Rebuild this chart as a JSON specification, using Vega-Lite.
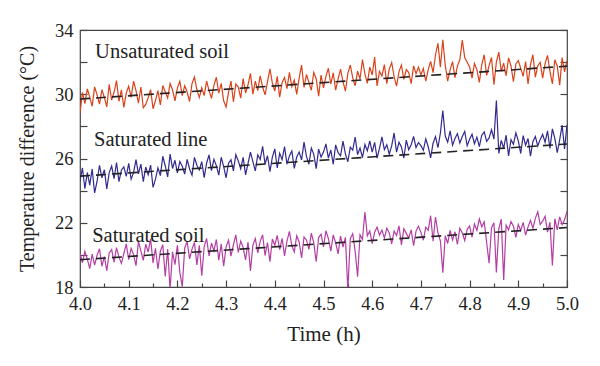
{
"$schema": "https://vega.github.io/schema/vega-lite/v6.json",
"width": 487, "height": 257,
"autosize": "none",
"padding": {"left": 80, "top": 30, "right": 33, "bottom": 79},
"background": "white",
"config": {"view": {"stroke": "#444", "strokeWidth": 1.2}, "font": "Liberation Serif"},
"datasets": {
"noisy": [
{"t":4.000,"u":28.80,"l":24.60,"s":20.10},{"t":4.005,"u":30.11,"l":25.41,"s":19.51},{"t":4.010,"u":29.42,"l":24.12,"s":20.22},{"t":4.015,"u":30.33,"l":25.13,"s":19.73},{"t":4.020,"u":29.84,"l":24.34,"s":19.14},{"t":4.025,"u":29.25,"l":25.35,"s":20.05},{"t":4.030,"u":30.46,"l":23.86,"s":19.36},{"t":4.035,"u":29.97,"l":24.57,"s":19.97},{"t":4.040,"u":29.38,"l":25.58,"s":20.38},{"t":4.045,"u":30.29,"l":24.79,"s":19.29},
{"t":4.050,"u":29.80,"l":25.30,"s":19.90},{"t":4.055,"u":29.21,"l":24.11,"s":19.01},{"t":4.060,"u":30.62,"l":25.12,"s":20.12},{"t":4.065,"u":29.63,"l":25.53,"s":20.33},{"t":4.070,"u":30.14,"l":24.74,"s":19.54},{"t":4.075,"u":30.85,"l":25.75,"s":20.45},{"t":4.080,"u":29.56,"l":24.56,"s":19.86},{"t":4.085,"u":30.27,"l":25.27,"s":19.47},{"t":4.090,"u":29.18,"l":25.48,"s":20.08},{"t":4.095,"u":30.09,"l":24.89,"s":20.69},
{"t":4.100,"u":30.50,"l":25.70,"s":19.70},{"t":4.105,"u":29.81,"l":24.71,"s":20.41},{"t":4.110,"u":30.82,"l":25.12,"s":20.02},{"t":4.115,"u":30.23,"l":25.93,"s":19.33},{"t":4.120,"u":29.44,"l":25.04,"s":20.84},{"t":4.125,"u":30.45,"l":25.65,"s":20.25},{"t":4.130,"u":29.16,"l":24.56,"s":19.66},{"t":4.135,"u":29.37,"l":25.47,"s":20.67},{"t":4.140,"u":29.78,"l":24.98,"s":20.18},{"t":4.145,"u":30.29,"l":25.59,"s":20.99},
{"t":4.150,"u":29.10,"l":24.20,"s":19.50},{"t":4.155,"u":29.61,"l":24.71,"s":20.41},{"t":4.160,"u":30.22,"l":25.42,"s":19.12},{"t":4.165,"u":29.33,"l":24.93,"s":20.23},{"t":4.170,"u":30.54,"l":26.14,"s":20.64},{"t":4.175,"u":30.15,"l":25.55,"s":18.65},{"t":4.180,"u":29.76,"l":24.86,"s":20.36},{"t":4.185,"u":30.67,"l":26.27,"s":17.87},{"t":4.190,"u":30.28,"l":25.38,"s":20.18},{"t":4.195,"u":29.59,"l":25.89,"s":19.39},
{"t":4.200,"u":30.40,"l":25.10,"s":20.60},{"t":4.205,"u":30.81,"l":25.81,"s":18.91},{"t":4.210,"u":29.92,"l":25.52,"s":18.02},{"t":4.215,"u":30.53,"l":25.03,"s":20.43},{"t":4.220,"u":30.14,"l":25.94,"s":20.84},{"t":4.225,"u":29.55,"l":25.35,"s":19.75},{"t":4.230,"u":30.66,"l":24.96,"s":20.36},{"t":4.235,"u":31.07,"l":26.07,"s":20.77},{"t":4.240,"u":30.28,"l":25.58,"s":19.38},{"t":4.245,"u":29.79,"l":25.29,"s":20.59},
{"t":4.250,"u":30.40,"l":25.80,"s":18.70},{"t":4.255,"u":29.91,"l":24.81,"s":20.51},{"t":4.260,"u":30.82,"l":25.72,"s":21.02},{"t":4.265,"u":30.23,"l":26.23,"s":19.93},{"t":4.270,"u":29.74,"l":25.24,"s":20.74},{"t":4.275,"u":30.55,"l":25.95,"s":20.25},{"t":4.280,"u":31.06,"l":25.56,"s":20.96},{"t":4.285,"u":30.07,"l":24.97,"s":19.67},{"t":4.290,"u":30.68,"l":26.08,"s":20.68},{"t":4.295,"u":29.59,"l":25.49,"s":19.29},
{"t":4.300,"u":29.20,"l":24.80,"s":20.50},{"t":4.305,"u":30.11,"l":25.71,"s":20.91},{"t":4.310,"u":30.82,"l":25.92,"s":19.92},{"t":4.315,"u":29.53,"l":25.23,"s":20.63},{"t":4.320,"u":30.64,"l":26.24,"s":21.24},{"t":4.325,"u":30.45,"l":25.85,"s":20.15},{"t":4.330,"u":29.76,"l":25.36,"s":20.86},{"t":4.335,"u":30.97,"l":26.07,"s":20.47},{"t":4.340,"u":30.08,"l":24.98,"s":19.68},{"t":4.345,"u":30.59,"l":25.69,"s":20.79},
{"t":4.350,"u":31.30,"l":26.40,"s":19.00},{"t":4.355,"u":30.01,"l":25.81,"s":20.61},{"t":4.360,"u":30.82,"l":25.22,"s":21.02},{"t":4.365,"u":30.23,"l":26.23,"s":20.13},{"t":4.370,"u":31.14,"l":25.94,"s":20.84},{"t":4.375,"u":30.45,"l":26.75,"s":21.25},{"t":4.380,"u":29.96,"l":25.66,"s":19.96},{"t":4.385,"u":30.77,"l":26.17,"s":20.77},{"t":4.390,"u":31.58,"l":25.18,"s":19.58},{"t":4.395,"u":30.69,"l":26.09,"s":20.99},
{"t":4.400,"u":30.20,"l":26.60,"s":20.60},{"t":4.405,"u":31.11,"l":25.41,"s":21.21},{"t":4.410,"u":29.82,"l":26.32,"s":20.32},{"t":4.415,"u":30.73,"l":25.93,"s":21.03},{"t":4.420,"u":31.04,"l":26.74,"s":19.94},{"t":4.425,"u":30.35,"l":25.65,"s":20.85},{"t":4.430,"u":31.36,"l":26.16,"s":21.46},{"t":4.435,"u":30.47,"l":26.47,"s":20.57},{"t":4.440,"u":30.88,"l":25.38,"s":20.18},{"t":4.445,"u":29.99,"l":26.09,"s":21.19},
{"t":4.450,"u":31.00,"l":26.40,"s":20.80},{"t":4.455,"u":31.81,"l":25.91,"s":19.81},{"t":4.460,"u":30.42,"l":27.02,"s":21.12},{"t":4.465,"u":31.23,"l":26.13,"s":20.93},{"t":4.470,"u":30.74,"l":25.64,"s":20.34},{"t":4.475,"u":30.25,"l":26.65,"s":21.35},{"t":4.480,"u":31.36,"l":26.26,"s":20.76},{"t":4.485,"u":30.97,"l":25.37,"s":19.57},{"t":4.490,"u":29.88,"l":26.58,"s":21.08},{"t":4.495,"u":31.19,"l":26.09,"s":21.29},
{"t":4.500,"u":30.40,"l":26.40,"s":20.50},{"t":4.505,"u":31.11,"l":26.91,"s":21.51},{"t":4.510,"u":31.62,"l":26.02,"s":21.02},{"t":4.515,"u":30.63,"l":26.53,"s":20.23},{"t":4.520,"u":31.34,"l":25.64,"s":21.24},{"t":4.525,"u":30.25,"l":26.85,"s":20.75},{"t":4.530,"u":30.96,"l":26.36,"s":20.06},{"t":4.535,"u":31.57,"l":26.17,"s":21.17},{"t":4.540,"u":30.78,"l":27.08,"s":20.48},{"t":4.545,"u":30.19,"l":26.29,"s":21.09},
{"t":4.550,"u":31.30,"l":25.80,"s":17.80},{"t":4.555,"u":31.81,"l":26.71,"s":21.01},{"t":4.560,"u":31.02,"l":26.52,"s":21.32},{"t":4.565,"u":30.53,"l":27.33,"s":20.23},{"t":4.570,"u":31.44,"l":26.24,"s":18.64},{"t":4.575,"u":30.95,"l":26.65,"s":21.25},{"t":4.580,"u":32.16,"l":26.06,"s":20.96},{"t":4.585,"u":31.27,"l":26.87,"s":22.67},{"t":4.590,"u":30.68,"l":26.48,"s":21.18},{"t":4.595,"u":31.69,"l":27.09,"s":21.49},
{"t":4.600,"u":31.20,"l":26.40,"s":20.70},{"t":4.605,"u":32.31,"l":27.01,"s":21.41},{"t":4.610,"u":30.52,"l":26.02,"s":21.72},{"t":4.615,"u":31.43,"l":26.63,"s":21.23},{"t":4.620,"u":31.14,"l":27.34,"s":21.54},{"t":4.625,"u":31.85,"l":26.55,"s":21.05},{"t":4.630,"u":30.66,"l":26.86,"s":21.66},{"t":4.635,"u":31.57,"l":26.27,"s":21.37},{"t":4.640,"u":31.98,"l":26.78,"s":20.68},{"t":4.645,"u":31.09,"l":27.59,"s":21.49},
{"t":4.650,"u":30.50,"l":26.40,"s":21.20},{"t":4.655,"u":31.41,"l":27.01,"s":21.81},{"t":4.660,"u":31.82,"l":26.72,"s":20.62},{"t":4.665,"u":30.93,"l":26.03,"s":21.63},{"t":4.670,"u":31.54,"l":27.14,"s":21.34},{"t":4.675,"u":31.35,"l":26.55,"s":21.05},{"t":4.680,"u":30.66,"l":26.86,"s":21.56},{"t":4.685,"u":31.77,"l":27.37,"s":20.57},{"t":4.690,"u":31.28,"l":26.68,"s":21.48},{"t":4.695,"u":31.69,"l":26.99,"s":21.79},
{"t":4.700,"u":31.20,"l":26.80,"s":21.40},{"t":4.705,"u":31.61,"l":26.51,"s":20.91},{"t":4.710,"u":30.82,"l":27.22,"s":21.72},{"t":4.715,"u":31.53,"l":26.73,"s":21.53},{"t":4.720,"u":32.04,"l":26.04,"s":22.44},{"t":4.725,"u":31.35,"l":26.95,"s":20.85},{"t":4.730,"u":32.46,"l":27.36,"s":22.36},{"t":4.735,"u":33.17,"l":26.67,"s":21.37},{"t":4.740,"u":31.68,"l":27.58,"s":20.88},{"t":4.745,"u":33.39,"l":28.99,"s":18.89},
{"t":4.750,"u":31.80,"l":27.40,"s":21.20},{"t":4.755,"u":30.81,"l":27.01,"s":20.71},{"t":4.760,"u":31.52,"l":27.72,"s":21.52},{"t":4.765,"u":32.03,"l":26.83,"s":20.93},{"t":4.770,"u":31.04,"l":27.24,"s":21.44},{"t":4.775,"u":31.75,"l":27.55,"s":20.65},{"t":4.780,"u":32.16,"l":26.96,"s":21.66},{"t":4.785,"u":33.37,"l":27.37,"s":21.37},{"t":4.790,"u":32.28,"l":27.68,"s":20.88},{"t":4.795,"u":31.99,"l":26.79,"s":21.59},
{"t":4.800,"u":31.70,"l":27.20,"s":21.80},{"t":4.805,"u":31.01,"l":27.51,"s":21.11},{"t":4.810,"u":31.92,"l":26.92,"s":21.92},{"t":4.815,"u":31.53,"l":27.33,"s":21.53},{"t":4.820,"u":30.74,"l":26.74,"s":22.24},{"t":4.825,"u":31.85,"l":27.45,"s":21.75},{"t":4.830,"u":32.46,"l":27.66,"s":22.06},{"t":4.835,"u":31.17,"l":27.07,"s":20.77},{"t":4.840,"u":31.78,"l":27.28,"s":19.48},{"t":4.845,"u":32.29,"l":27.79,"s":21.69},
{"t":4.850,"u":30.60,"l":27.20,"s":22.00},{"t":4.855,"u":32.01,"l":29.61,"s":18.91},{"t":4.860,"u":32.62,"l":26.32,"s":21.62},{"t":4.865,"u":31.43,"l":27.13,"s":22.23},{"t":4.870,"u":31.94,"l":26.64,"s":18.44},{"t":4.875,"u":31.15,"l":27.45,"s":21.85},{"t":4.880,"u":32.26,"l":26.16,"s":21.56},{"t":4.885,"u":31.77,"l":27.17,"s":22.07},{"t":4.890,"u":30.78,"l":26.88,"s":21.78},{"t":4.895,"u":31.89,"l":27.59,"s":21.09},
{"t":4.900,"u":32.10,"l":27.10,"s":21.90},{"t":4.905,"u":31.61,"l":26.31,"s":21.51},{"t":4.910,"u":31.12,"l":27.42,"s":22.02},{"t":4.915,"u":32.03,"l":26.83,"s":21.23},{"t":4.920,"u":30.64,"l":27.24,"s":21.74},{"t":4.925,"u":31.85,"l":26.15,"s":22.15},{"t":4.930,"u":32.46,"l":27.06,"s":21.66},{"t":4.935,"u":31.07,"l":27.37,"s":22.27},{"t":4.940,"u":31.78,"l":26.78,"s":22.68},{"t":4.945,"u":31.99,"l":27.19,"s":21.89},
{"t":4.950,"u":31.00,"l":27.50,"s":22.10},{"t":4.955,"u":31.91,"l":27.01,"s":22.41},{"t":4.960,"u":32.42,"l":27.72,"s":21.42},{"t":4.965,"u":31.43,"l":26.63,"s":22.03},{"t":4.970,"u":30.64,"l":27.84,"s":19.34},{"t":4.975,"u":32.15,"l":27.25,"s":22.25},{"t":4.980,"u":31.76,"l":26.36,"s":21.56},{"t":4.985,"u":30.57,"l":27.17,"s":22.37},{"t":4.990,"u":32.28,"l":28.08,"s":21.88},{"t":4.995,"u":31.39,"l":26.59,"s":22.19},
{"t":5.000,"u":32.10,"l":28.10,"s":22.70}
],
"trend": [
{"series":"u","t":4.0,"value":29.7},{"series":"u","t":5.0,"value":31.75},
{"series":"l","t":4.0,"value":24.9},{"series":"l","t":5.0,"value":26.9},
{"series":"s","t":4.0,"value":19.7},{"series":"s","t":5.0,"value":21.7}
],
"labels": [
{"t":4.031,"value":32.26,"text":"Unsaturated soil"},
{"t":4.029,"value":26.78,"text":"Saturated line"},
{"t":4.025,"value":20.82,"text":"Saturated soil"}
]
},
"resolve": {"axis": {"x": "independent", "y": "independent"}},
"layer": [
{
"data": {"name": "noisy"},
"transform": [{"fold": ["u", "l", "s"], "as": ["series", "value"]}],
"mark": {"type": "line", "strokeWidth": 1.2, "clip": true},
"encoding": {
"x": {"field": "t", "type": "quantitative",
"scale": {"domain": [4, 5], "nice": false, "zero": false},
"axis": {"orient": "bottom", "values": [4.0,4.1,4.2,4.3,4.4,4.5,4.6,4.7,4.8,4.9,5.0], "format": ".1f",
"title": "Time (h)", "titleFont": "Liberation Serif", "titleFontSize": 21, "titleFontWeight": "normal", "titleColor": "#222", "titlePadding": 11,
"labelFont": "Liberation Serif", "labelFontSize": 18.5, "labelColor": "#222", "labelPadding": 14,
"tickSize": -7, "tickColor": "#444", "tickWidth": 1.2, "domain": false, "grid": false, "labelFlush": false}},
"y": {"field": "value", "type": "quantitative",
"scale": {"domain": [18, 34], "nice": false, "zero": false},
"axis": {"orient": "left", "values": [18,20,22,24,26,28,30,32,34], "labelExpr": "datum.value % 4 == 2 ? datum.label : ''",
"title": "Temperature difference (°C)", "titleFont": "Liberation Serif", "titleFontSize": 20, "titleFontWeight": "normal", "titleColor": "#222", "titlePadding": 17,
"labelFont": "Liberation Serif", "labelFontSize": 18.5, "labelColor": "#222", "labelPadding": 14,
"tickSize": -7, "tickColor": "#444", "tickWidth": 1.2, "domain": false, "grid": false, "labelFlush": false}},
"color": {"field": "series", "type": "nominal", "legend": null,
"scale": {"domain": ["u", "l", "s"], "range": ["#d9421b", "#322a8f", "#b43ea3"]}},
"detail": {"field": "series"}
}
},
{
"data": {"name": "trend"},
"mark": {"type": "line", "strokeWidth": 1.6, "color": "#222", "strokeDash": [10, 6]},
"encoding": {
"x": {"field": "t", "type": "quantitative",
"axis": {"orient": "bottom", "values": [4.05,4.15,4.25,4.35,4.45,4.55,4.65,4.75,4.85,4.95], "labels": false, "title": null,
"tickSize": -4, "tickColor": "#444", "tickWidth": 1.2, "domain": false, "grid": false}},
"y": {"field": "value", "type": "quantitative",
"axis": {"orient": "right", "values": [18,20,22,24,26,28,30,32,34], "labels": false, "title": null,
"tickSize": -7, "tickColor": "#444", "tickWidth": 1.2, "domain": false, "grid": false}},
"detail": {"field": "series"}
}
},
{
"data": {"name": "labels"},
"mark": {"type": "text", "font": "Liberation Serif", "fontSize": 20.5, "align": "left", "baseline": "alphabetic", "color": "#222"},
"encoding": {
"x": {"field": "t", "type": "quantitative", "axis": null},
"y": {"field": "value", "type": "quantitative", "axis": null},
"text": {"field": "text"}
}
}
]
}
